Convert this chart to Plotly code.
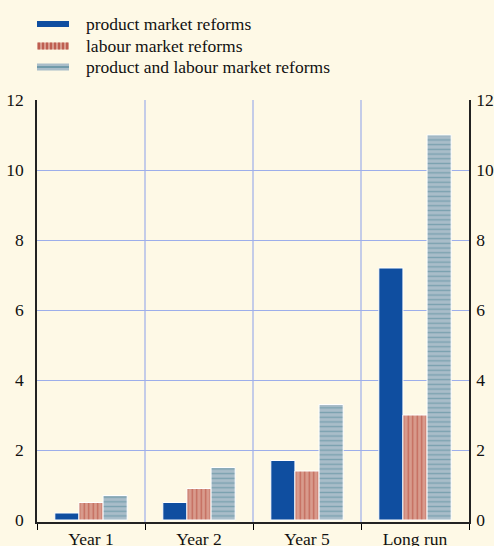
import plotly.graph_objects as go

# Cumulative effect of reforms, by horizon
categories = ["Year 1", "Year 2", "Year 5", "Long run"]
product_market = [0.2, 0.5, 1.7, 7.2]
labour_market = [0.5, 0.9, 1.4, 3.0]
product_and_labour = [0.7, 1.5, 3.3, 11.0]
series_names = [
    "product market reforms",
    "labour market reforms",
    "product and labour market reforms",
]
y_ticks = [0, 2, 4, 6, 8, 10, 12]
grid_ticks = [2, 4, 6, 8, 10, 12]

BG = "#FEF9E6"
BLUE = "#0F4EA0"
RED_BG = "#D89B8D"
RED_FG = "#AE3628"
GREY_BG = "#A9BDC9"
GREY_FG = "#4C8595"
GRID = "#9DAEEA"
FONT = "Liberation Serif, Times New Roman, serif"

fig = go.Figure()
fig.add_trace(go.Bar(
    x=categories, y=product_market, name=series_names[0],
    marker=dict(color=BLUE, line=dict(color="white", width=1)),
))
fig.add_trace(go.Bar(
    x=categories, y=labour_market, name=series_names[1],
    marker=dict(color=RED_BG, line=dict(color="white", width=1),
                pattern=dict(shape="|", fgcolor=RED_FG, bgcolor=RED_BG,
                             size=4.5, solidity=0.3)),
))
fig.add_trace(go.Bar(
    x=categories, y=product_and_labour, name=series_names[2],
    marker=dict(color=GREY_BG, line=dict(color="white", width=1),
                pattern=dict(shape="-", fgcolor=GREY_FG, bgcolor=GREY_BG,
                             size=4.7, solidity=0.3)),
))
# invisible traces so the right-hand axis and the grid axis are drawn
for ax in ("y2", "y3"):
    fig.add_trace(go.Scatter(x=categories, y=product_market, yaxis=ax,
                             mode="markers", marker=dict(opacity=0),
                             showlegend=False, hoverinfo="skip"))

yrange = [-2 / 35, 12]
axis_font = dict(family=FONT, size=17.5, color="#111")

fig.update_layout(
    width=494, height=546,
    margin=dict(l=37, r=25, t=100, b=24),
    paper_bgcolor=BG, plot_bgcolor=BG,
    barmode="group", bargap=0.33, bargroupgap=0,
    showlegend=False,
    font=dict(family=FONT, color="#111"),
    xaxis=dict(
        tickson="boundaries", ticks="outside", ticklen=6, tickcolor="black",
        showline=True, linecolor="#222", linewidth=1.5,
        showgrid=False,
        tickfont=axis_font, ticklabelstandoff=0, automargin=False,
    ),
    yaxis=dict(
        range=yrange, tickvals=y_ticks, showgrid=False,
        zeroline=False, showline=True, linecolor="#222",
        linewidth=1.5, ticks="", tickfont=axis_font, ticklabelstandoff=8,
        automargin=False,
    ),
    yaxis2=dict(
        range=yrange, tickvals=y_ticks, overlaying="y", side="right",
        showgrid=False, zeroline=False, showline=True, linecolor="#222",
        linewidth=1.5, ticks="", tickfont=axis_font, ticklabelstandoff=2,
        automargin=False,
    ),
    yaxis3=dict(
        range=yrange, tickvals=grid_ticks, overlaying="y",
        showgrid=True, gridcolor=GRID, gridwidth=1, zeroline=False,
        showline=False, ticks="", showticklabels=False, automargin=False,
    ),
)

shapes = []
annotations = []

# vertical grid lines between the category groups
for i in range(len(categories) - 1):
    shapes.append(dict(type="line", xref="x", yref="paper",
                       x0=i + 0.5, x1=i + 0.5, y0=0, y1=1,
                       line=dict(color=GRID, width=1.2), layer="below"))

# Legend drawn as swatches above the plot area (pixel offsets from top-left)
rows = [76, 54, 33]  # pixel offsets above the plot top for each row centre


def px_rect(x0, x1, y0, y1, color):
    return dict(type="rect", xref="paper", yref="paper",
                xsizemode="pixel", ysizemode="pixel", xanchor=0, yanchor=1,
                x0=x0, x1=x1, y0=y0, y1=y1,
                fillcolor=color, line=dict(width=0), layer="above")


def px_line(x0, x1, y0, y1, color, width):
    return dict(type="line", xref="paper", yref="paper",
                xsizemode="pixel", ysizemode="pixel", xanchor=0, yanchor=1,
                x0=x0, x1=x1, y0=y0, y1=y1,
                line=dict(color=color, width=width), layer="above")


sw0, sw1 = 0, 32
# product market: solid blue
shapes.append(px_rect(sw0, sw1, rows[0] - 3, rows[0] + 3, BLUE))
# labour market: salmon with dark red verticals
shapes.append(px_rect(sw0, sw1, rows[1] - 3.5, rows[1] + 3.5, RED_BG))
for xv in range(2, 32, 4):
    shapes.append(px_line(xv, xv, rows[1] - 3.5, rows[1] + 3.5, RED_FG, 1.2))
# product and labour: grey-blue with a teal horizontal stripe
shapes.append(px_rect(sw0, sw1, rows[2] - 3.5, rows[2] + 3.5, GREY_BG))
shapes.append(px_line(sw0, sw1, rows[2], rows[2], GREY_FG, 1.2))

for name, off in zip(series_names, rows):
    annotations.append(dict(
        text=name, xref="paper", yref="paper", x=0, y=1,
        xanchor="left", yanchor="middle", xshift=47, yshift=off,
        showarrow=False, font=dict(family=FONT, size=17.5, color="#111"),
    ))

fig.update_layout(shapes=shapes, annotations=annotations)

fig.write_html("out.html")
